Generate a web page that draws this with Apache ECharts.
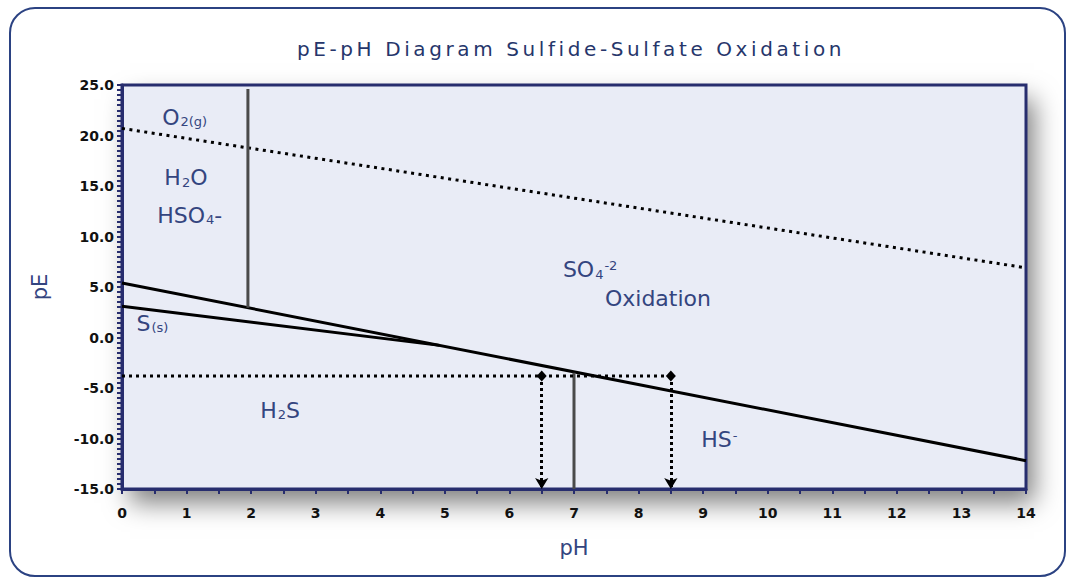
<!DOCTYPE html>
<html>
<head>
<meta charset="utf-8">
<script src="https://cdn.jsdelivr.net/npm/echarts@6/dist/echarts.min.js"></script>
<style>
  html, body { margin: 0; padding: 0; background: #fff; }
  .frame {
    position: absolute; left: 9px; top: 7px; width: 1053px; height: 566px;
    border: 2.5px solid #2b4282; border-radius: 26px;
  }
  .plotshadow {
    position: absolute; left: 122px; top: 85px; width: 904px; height: 404px;
    box-shadow: 8px 14px 24px rgba(0,0,0,0.5);
  }
  #chart { position: absolute; left: 0; top: 0; width: 1068px; height: 578px; }
</style>
</head>
<body>
<div class="frame"></div>
<div class="plotshadow"></div>
<div id="chart"></div>
<script>
// boundary lines, [pH, pE]
const o2Line = [[0, 20.7], [14, 6.9]];
const sulfideLine = [[0, 5.4], [14, -12.2]];
const sulfurLine = [[0, 3.1], [4.92, -0.78]];
const hso4Bound = [[1.95, 2.95], [1.95, 24.6]];
const hsBound = [[7, -15], [7, -3.5]];
const pkaLevel = [[0, -3.8], [8.5, -3.8]];
const pkaMarks = [6.5, 8.5];

const titleText = 'pE-pH Diagram Sulfide-Sulfate Oxidation';
const navy = '#272d6e';
const textBlue = '#34457f';
const face = 'DejaVu Sans';

let chart = echarts.init(document.getElementById('chart'), null, { renderer: 'svg' });

const rich = {
  b: { fontFamily: face, fontSize: 22, color: textBlue },
  sub: { fontFamily: face, fontSize: 13, color: textBlue, padding: [9, 0, 0, 1] },
  sup: { fontFamily: face, fontSize: 13, color: textBlue, padding: [0, 0, 9, 1] }
};

function txt(x, y, f) {
  return { coord: [x, y], label: { formatter: f } };
}

let options = {
  animation: false,
  title: {
    text: titleText,
    left: 566, top: 34, textAlign: 'center',
    textStyle: { fontFamily: face, fontWeight: 'normal', fontSize: 20, color: '#26366b' }
  },
  grid: {
    left: 122, right: 42, top: 85, bottom: 89,
    show: true, backgroundColor: '#e9ecf6', borderColor: navy, borderWidth: 3
  },
  xAxis: {
    type: 'value', min: 0, max: 14, interval: 1,
    name: 'pH', nameLocation: 'middle', nameGap: 48,
    nameTextStyle: { fontFamily: face, fontSize: 21, color: textBlue },
    axisLine: { show: true, onZero: false, lineStyle: { color: navy, width: 3 } },
    axisTick: { show: true, length: 5, lineStyle: { color: navy, width: 2 } },
    minorTick: { show: true, splitNumber: 2, length: 5, lineStyle: { color: navy, width: 2 } },
    axisLabel: { fontFamily: face, fontWeight: 'bold', fontSize: 14, color: '#111', margin: 17 },
    splitLine: { show: false }
  },
  yAxis: {
    type: 'value', min: -15, max: 25, interval: 5,
    name: 'pE', nameLocation: 'middle', nameGap: 72, nameRotate: 90,
    nameTextStyle: { fontFamily: face, fontSize: 21, color: textBlue },
    axisLine: { show: true, onZero: false, lineStyle: { color: navy, width: 3 } },
    axisTick: { show: true, length: 5, lineStyle: { color: navy, width: 2 } },
    minorTick: { show: true, splitNumber: 10, length: 5, lineStyle: { color: navy, width: 2 } },
    axisLabel: {
      fontFamily: face, fontWeight: 'bold', fontSize: 14, color: '#111', margin: 8,
      formatter: (v) => v.toFixed(1)
    },
    splitLine: { show: false }
  },
  series: [
    {
      type: 'line', data: o2Line, symbol: 'none',
      lineStyle: { color: '#000', width: 3, type: [3, 4.5] }
    },
    {
      type: 'line', data: sulfideLine, symbol: 'none',
      lineStyle: { color: '#000', width: 3 }
    },
    {
      type: 'line', data: sulfurLine, symbol: 'none',
      lineStyle: { color: '#000', width: 3 }
    },
    {
      type: 'line', data: hso4Bound, symbol: 'none',
      lineStyle: { color: '#4a4a4a', width: 3 }
    },
    {
      type: 'line', data: hsBound, symbol: 'none',
      lineStyle: { color: '#4a4a4a', width: 3 }
    },
    {
      type: 'line', data: pkaLevel, symbol: 'none',
      lineStyle: { color: '#000', width: 3, type: [3, 4] },
      markLine: {
        silent: true, symbol: ['diamond', 'arrow'], symbolSize: [10, 11],
        label: { show: false },
        lineStyle: { color: '#000', width: 3, type: [3, 3] },
        data: pkaMarks.map((x) => [{ coord: [x, pkaLevel[0][1]] }, { coord: [x, -15] }])
      },
      markPoint: {
        symbol: 'circle', symbolSize: 0, silent: true,
        label: { show: true, position: 'inside', rich: rich, fontFamily: face, fontSize: 22, color: textBlue },
        data: [
          txt(0.97, 21.8, '{b|O}{sub|2(g)}'),
          txt(0.99, 15.8, '{b|H}{sub|2}{b|O}'),
          txt(1.05, 12.1, '{b|HSO}{sub|4}{b|-}'),
          txt(7.25, 6.7, '{b|SO}{sub|4}{sup|-2}'),
          txt(8.3, 3.9, '{b|Oxidation}'),
          txt(0.47, 1.4, '{b|S}{sub|(s)}'),
          txt(2.45, -7.2, '{b|H}{sub|2}{b|S}'),
          txt(9.25, -10.1, '{b|HS}{sup|-}')
        ]
      }
    }
  ]
};

chart.setOption(options);

// the title in the picture is widely tracked
document.querySelectorAll('#chart text').forEach((t) => {
  if (t.textContent === titleText) t.style.letterSpacing = '3.6px';
});
</script>
</body>
</html>
